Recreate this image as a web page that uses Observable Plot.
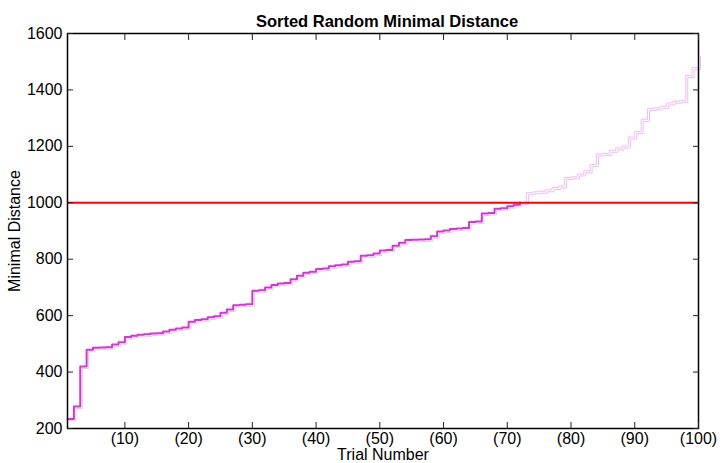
<!DOCTYPE html>
<html><head><meta charset="utf-8">
<script src="https://cdn.jsdelivr.net/npm/d3@7"></script>
<script src="https://cdn.jsdelivr.net/npm/@observablehq/plot@0.6"></script>
<style>body{margin:0;background:#fff}</style>
</head><body><div id="chart"></div>
<script>
const title = "Sorted Random Minimal Distance";
const xLabel = "Trial Number";
const yLabel = "Minimal Distance";
const threshold = 1000;
const minDistance = [
  234, 278, 420, 479, 486, 487, 488, 498, 506, 524,
  529, 532, 534, 537, 538, 544, 550, 554, 558, 578,
  585, 587, 594, 598, 610, 622, 637, 639, 640, 688,
  690, 700, 709, 714, 716, 729, 741, 752, 756, 765,
  767, 775, 779, 781, 791, 793, 812, 814, 820, 831,
  833, 848, 858, 868, 869, 870, 871, 881, 898, 902,
  907, 909, 911, 932, 934, 962, 964, 979, 981, 988,
  993, 1001, 1036, 1039, 1041, 1046, 1054, 1059, 1090, 1092,
  1102, 1113, 1136, 1173, 1175, 1186, 1194, 1201, 1233, 1252,
  1296, 1334, 1336, 1342, 1354, 1360, 1362, 1451, 1479, 1527
];
const trials = minDistance.map((_, i) => i + 1);
const xTicks = [10, 20, 30, 40, 50, 60, 70, 80, 90, 100];
const yTicks = [200, 400, 600, 800, 1000, 1200, 1400, 1600];

const data = trials.map((t, i) => ({trial: t, dist: minDistance[i]}));
const cross = data.findIndex(d => d.dist >= threshold);
const below = data.slice(0, cross + 1);
const above = data.slice(cross);

const magenta = "#c93ec9";
const pink = "#efbcef";
const blank = () => "";

const chart = Plot.plot({
  width: 722, height: 463,
  marginLeft: 67, marginRight: 24, marginTop: 33, marginBottom: 35,
  style: {fontFamily: "'Liberation Sans', Arial, Helvetica, sans-serif", fontSize: "16px", color: "#000", background: "#fff"},
  x: {domain: [1, 100]},
  y: {domain: [200, 1600]},
  marks: [
    Plot.line(data, {x: "trial", y: "dist", curve: "step-after", stroke: pink, strokeWidth: 1, dx: 2, dy: 2}),
    Plot.line(above, {x: "trial", y: "dist", curve: "step-after", stroke: pink, strokeWidth: 1}),
    Plot.line(below, {x: "trial", y: "dist", curve: "step-after", stroke: magenta, strokeWidth: 2}),
    Plot.ruleY([threshold], {stroke: "#ff0000", strokeWidth: 2}),
    Plot.frame({stroke: "#000", strokeWidth: 1.5}),
    Plot.axisY({ticks: yTicks, tickSize: 0, tickPadding: 5, tickFormat: d => String(d), label: yLabel, labelAnchor: "center", labelArrow: "none", labelOffset: 59, fontSize: 16}),
    Plot.axisY({ticks: yTicks, tickSize: 6, dx: 6, tickFormat: blank, label: null, stroke: "#222"}),
    Plot.axisY({anchor: "right", ticks: yTicks, tickSize: 6, dx: -6, tickFormat: blank, label: null, stroke: "#222"}),
    Plot.axisX({ticks: xTicks, tickSize: 0, tickPadding: 4, tickFormat: d => `(${d})`, label: xLabel, labelAnchor: "center", labelArrow: "none", labelOffset: 31, fontSize: 16}),
    Plot.axisX({ticks: xTicks, tickSize: 6, dy: -6, tickFormat: blank, label: null, stroke: "#222"}),
    Plot.axisX({anchor: "top", ticks: xTicks, tickSize: 6, dy: 6, tickFormat: blank, label: null, stroke: "#222"}),
    Plot.text([title], {text: d => d, frameAnchor: "top", dy: -18, dx: 4, fontWeight: "bold", fontSize: 16.5})
  ]
});
document.getElementById("chart").appendChild(chart);
</script>
</body></html>
